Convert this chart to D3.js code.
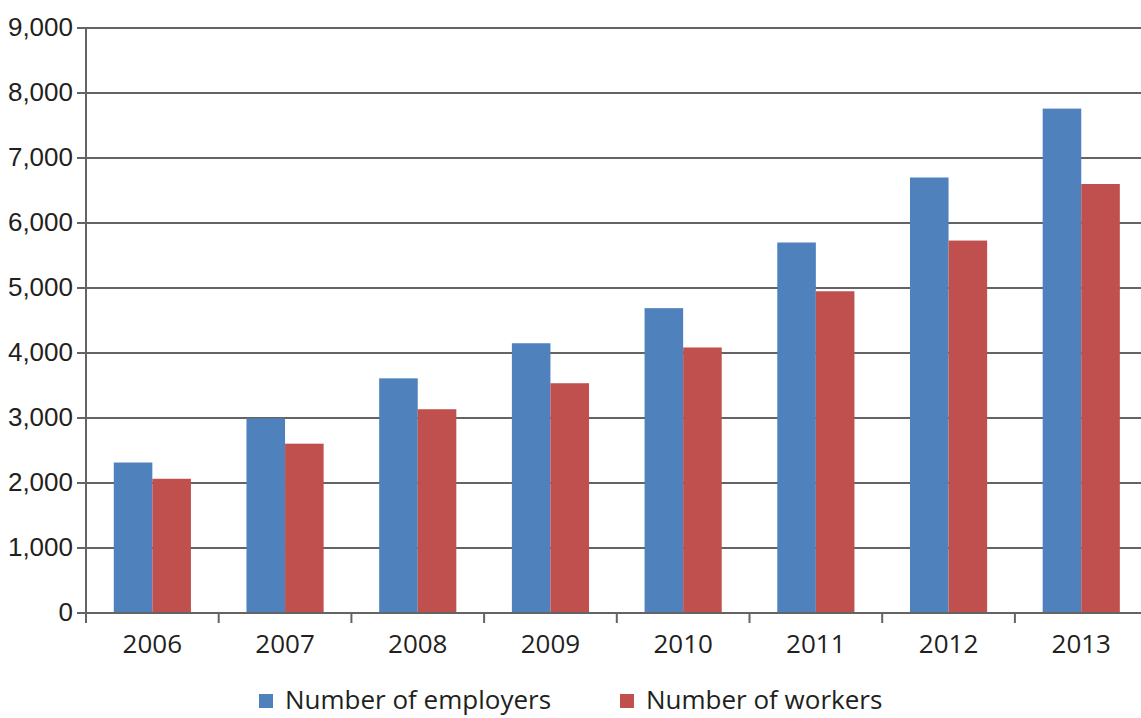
<!DOCTYPE html>
<html>
<head>
<meta charset="utf-8">
<script src="https://cdn.jsdelivr.net/npm/d3@7"></script>
<style>
  body { margin: 0; background: #fff; }
  svg { display: block; font-family: "Open Sans", "Noto Sans", sans-serif; }
  .grid line { stroke: #646464; stroke-width: 2; }
  .axis path, .axis line { stroke: #646464; stroke-width: 2; }
  .axis text { fill: #231f20; font-size: 26px; }
  .legend text { fill: #231f20; font-size: 26px; }
</style>
</head>
<body>
<svg width="1141" height="718"></svg>
<script>
const years = ["2006", "2007", "2008", "2009", "2010", "2011", "2012", "2013"];
const employers = [2315, 2995, 3610, 4150, 4690, 5700, 6700, 7760];
const workers = [2065, 2605, 3135, 3535, 4085, 4950, 5730, 6600];
const seriesNames = ["Number of employers", "Number of workers"];
const colors = ["#4f81bd", "#c0504d"];
const yTicks = [0, 1000, 2000, 3000, 4000, 5000, 6000, 7000, 8000, 9000];

const svg = d3.select("svg");
const margin = { top: 28, right: 0, bottom: 105, left: 86 };
const band = 132.7;
const height = 718 - margin.top - margin.bottom;

const g = svg.append("g")
  .attr("transform", `translate(${margin.left},${margin.top})`);

const x0 = d3.scaleBand().domain(years).range([0, band * years.length]).padding(0);
const x1 = d3.scaleBand().domain(seriesNames).range([0, band]).paddingInner(0).paddingOuter(0.72);
const y = d3.scaleLinear().domain([0, 9000]).range([height, 0]);

// gridlines
g.append("g").attr("class", "grid")
  .selectAll("line").data(yTicks).join("line")
  .attr("x1", -9).attr("x2", 1141 - margin.left)
  .attr("y1", (d) => y(d)).attr("y2", (d) => y(d));

// bars
const data = years.map((yr, i) => ({ year: yr, values: [employers[i], workers[i]] }));
g.append("g").selectAll("g").data(data).join("g")
  .attr("transform", (d) => `translate(${x0(d.year)},0)`)
  .selectAll("rect").data((d) => d.values.map((v, j) => ({ key: seriesNames[j], v, j })))
  .join("rect")
  .attr("x", (d) => x1(d.key))
  .attr("width", x1.bandwidth())
  .attr("y", (d) => y(d.v))
  .attr("height", (d) => height - y(d.v))
  .attr("fill", (d) => colors[d.j]);

// y axis
const yAxis = g.append("g").attr("class", "axis")
  .call(d3.axisLeft(y).tickValues(yTicks).tickSize(0).tickPadding(13).tickFormat(d3.format(",")));
yAxis.select(".domain").attr("d", `M0,0V${height + 10}`);
yAxis.selectAll("text").attr("dy", "0.3em");

// x axis
const xTickPos = d3.range(years.length).map((i) => i * band);
const xAxis = g.append("g").attr("class", "axis")
  .attr("transform", `translate(0,${height})`);
xAxis.append("line").attr("x1", -9).attr("x2", 1141 - margin.left).attr("y1", 0).attr("y2", 0);
xAxis.selectAll(".tk").data(xTickPos).join("line").attr("class", "tk")
  .attr("x1", (d) => d).attr("x2", (d) => d).attr("y1", 0).attr("y2", 10);
xAxis.selectAll("text").data(years).join("text")
  .attr("x", (d) => x0(d) + band / 2)
  .attr("y", 40)
  .attr("text-anchor", "middle")
  .text((d) => d);

// legend
const legendX = [259, 620];
const legend = svg.append("g").attr("class", "legend");
const li = legend.selectAll("g").data(seriesNames).join("g")
  .attr("transform", (d, i) => `translate(${legendX[i]},694)`);
li.append("rect").attr("width", 14).attr("height", 14).attr("fill", (d, i) => colors[i]);
li.append("text").attr("x", 26).attr("y", 15).text((d) => d);
</script>
</body>
</html>
